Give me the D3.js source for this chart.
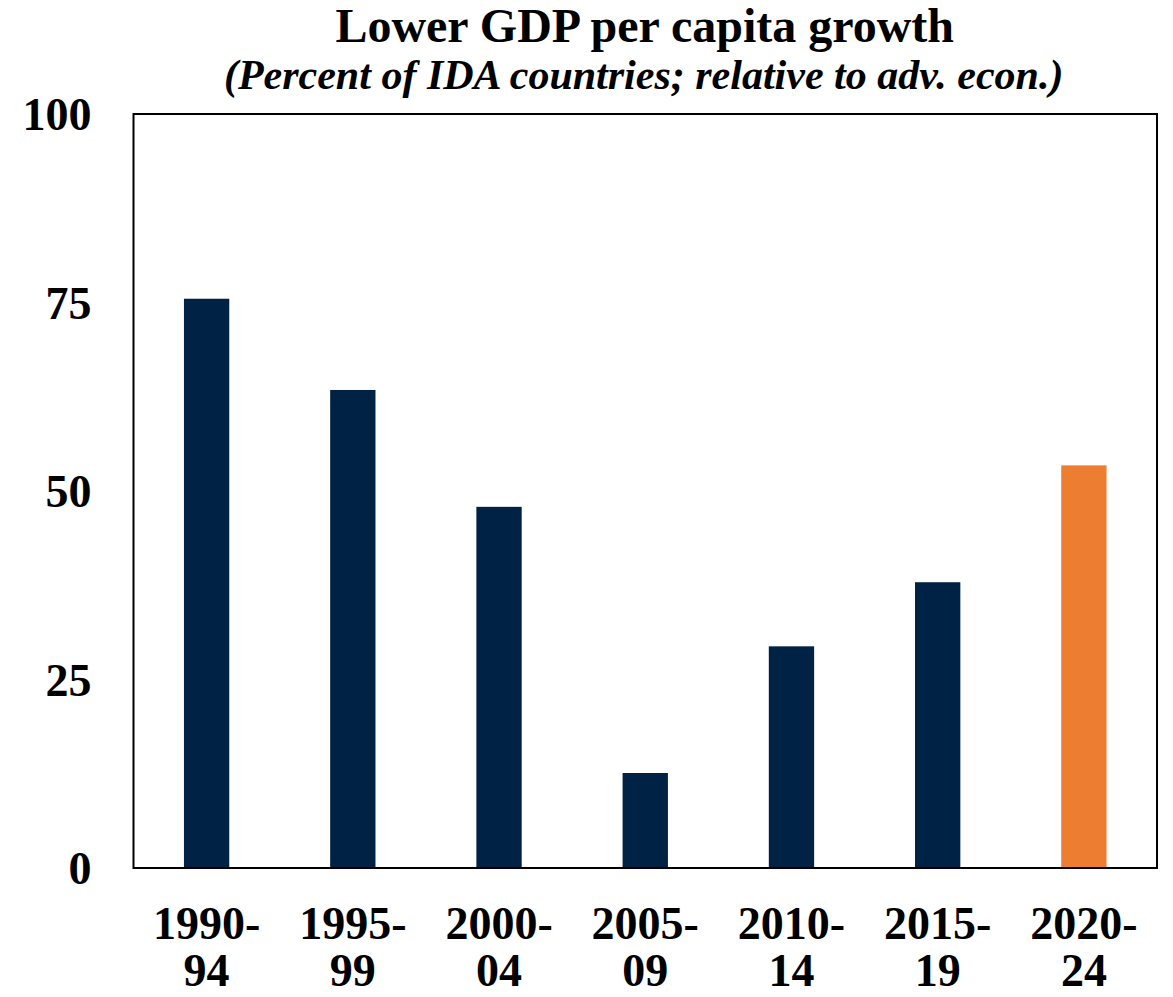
<!DOCTYPE html>
<html>
<head>
<meta charset="utf-8">
<script src="https://cdn.jsdelivr.net/npm/d3@7"></script>
<style>
  html, body { margin: 0; padding: 0; background: #fff; }
  svg { display: block; }
  text { font-family: "Liberation Serif", "Times New Roman", serif; font-weight: bold; fill: #000; }
</style>
</head>
<body>
<svg id="chart" width="1173" height="997"></svg>
<script>
const categories = [["1990-", "94"], ["1995-", "99"], ["2000-", "04"], ["2005-", "09"], ["2010-", "14"], ["2015-", "19"], ["2020-", "24"]];
const values = [75.5, 63.4, 47.9, 12.6, 29.4, 37.9, 53.4];
const highlight = [false, false, false, false, false, false, true];
const yTicks = [0, 25, 50, 75, 100];
const title = "Lower GDP per capita growth";
const subtitle = "(Percent of IDA countries; relative to adv. econ.)";

const svg = d3.select("#chart");
const margin = { left: 133.5, right: 1157, top: 114, bottom: 868 };

const x = d3.scaleBand()
  .domain(categories.map((d, i) => i))
  .range([margin.left, margin.right])
  .paddingInner(0.69)
  .paddingOuter(0.345);

const y = d3.scaleLinear().domain([0, 100]).range([margin.bottom, margin.top]);

// Bars
svg.append("g").selectAll("rect")
  .data(values)
  .join("rect")
  .attr("x", (d, i) => x(i))
  .attr("y", d => y(d))
  .attr("width", x.bandwidth())
  .attr("height", d => y(0) - y(d))
  .attr("fill", (d, i) => highlight[i] ? "#ED7D31" : "#002345");

// Frame
svg.append("rect")
  .attr("x", margin.left).attr("y", margin.top)
  .attr("width", margin.right - margin.left)
  .attr("height", margin.bottom - margin.top)
  .attr("fill", "none").attr("stroke", "#000").attr("stroke-width", 2);

// Y axis
const yAxis = d3.axisLeft(y).tickValues(yTicks).tickSize(0).tickPadding(42);
const gy = svg.append("g").attr("transform", `translate(${margin.left},0)`).call(yAxis);
gy.select(".domain").remove();
gy.selectAll("text")
  .style("font-family", '"Liberation Serif", "Times New Roman", serif')
  .style("font-weight", "bold")
  .style("font-size", "46px")
  .attr("fill", "#000")
  .attr("dy", "0.34em");

// X axis
const xAxis = d3.axisBottom(x).tickSize(0).tickFormat(() => "");
const gx = svg.append("g").attr("transform", `translate(0,${margin.bottom})`).call(xAxis);
gx.select(".domain").remove();
gx.selectAll(".tick").each(function(d) {
  const t = d3.select(this).select("text")
    .text(null)
    .attr("y", 0).attr("dy", null)
    .style("font-family", '"Liberation Serif", "Times New Roman", serif')
    .style("font-weight", "bold")
    .style("font-size", "46px")
    .attr("fill", "#000")
    .attr("text-anchor", "middle");
  t.append("tspan").attr("x", 0).attr("y", 71).text(categories[d][0]);
  t.append("tspan").attr("x", 0).attr("y", 118).text(categories[d][1]);
});

// Titles
svg.append("text")
  .attr("x", 644.7).attr("y", 42)
  .attr("text-anchor", "middle")
  .style("font-size", "48px")
  .text(title);
svg.append("text")
  .attr("x", 643.7).attr("y", 89)
  .attr("text-anchor", "middle")
  .style("font-size", "42px")
  .style("font-style", "italic")
  .text(subtitle);
</script>
</body>
</html>
